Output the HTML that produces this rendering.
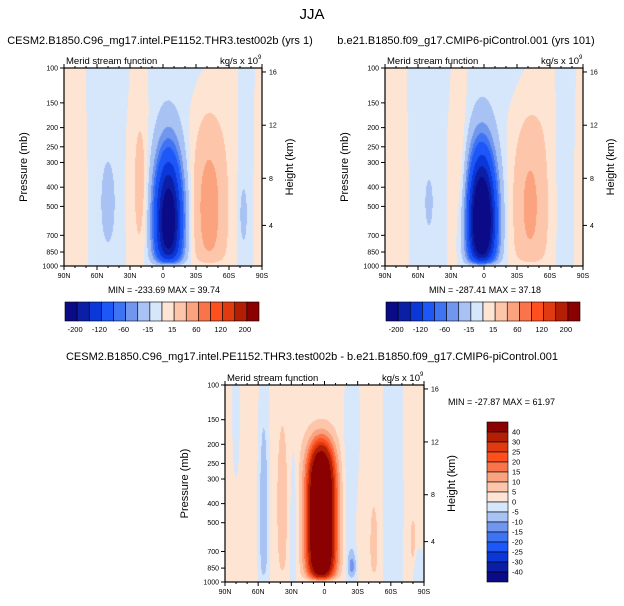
<!DOCTYPE html>
<html><head><meta charset="utf-8">
<style>
body{margin:0;background:#fff;width:624px;height:606px;overflow:hidden;position:relative;font-family:"Liberation Sans",Arial,sans-serif}
canvas{position:absolute}
svg{position:absolute;left:0;top:0}
</style></head>
<body>
<canvas id="c1" style="left:64px;top:68px" width="198" height="198"></canvas>
<canvas id="c2" style="left:385px;top:68px" width="198" height="198"></canvas>
<canvas id="c3" style="left:225px;top:385px" width="199" height="197"></canvas>
<svg id="ov" width="624" height="606" font-family="Liberation Sans, Arial, sans-serif">
<text x="312" y="19" font-size="15" text-anchor="middle">JJA</text>
<text x="160" y="44" font-size="11" text-anchor="middle">CESM2.B1850.C96_mg17.intel.PE1152.THR3.test002b (yrs 1)</text>
<text x="466" y="44" font-size="11" text-anchor="middle">b.e21.B1850.f09_g17.CMIP6-piControl.001 (yrs 101)</text>
<text x="312" y="360" font-size="11" text-anchor="middle">CESM2.B1850.C96_mg17.intel.PE1152.THR3.test002b - b.e21.B1850.f09_g17.CMIP6-piControl.001</text>
<text x="164" y="293" font-size="9" text-anchor="middle">MIN = -233.69  MAX =  39.74</text>
<text x="485" y="293" font-size="9" text-anchor="middle">MIN = -287.41  MAX =  37.18</text>
<text x="448" y="405" font-size="9">MIN = -27.87  MAX =  61.97</text>
</svg>
<script>
// data: contour field components [amplitude, latitude(-90=90N..90=90S), pressure(mb), sigmaLat, sigmaLogP, expLat, expLogP]
const blobs1=[[-250,5,590,9,0.245,2,2],[-5,10,100,45,0.2,2,2],[-10,-50,400,9,1.0,2,2],[8,-88,400,10,3,2,2],[-22,-50,480,4,0.12,2,2],[10,-22,300,7,0.8,2,2],[20,-20,400,4,0.2,2,2],[45,42,500,10,0.3,2,2],[10,42,600,15,0.4,2,2],[8,62,100,7,0.25,2,2],[-8,74,400,5,1.0,2,2],[-20,73,550,2.5,0.1,2,2],[6,90,400,5,3,2,2]];
const blobs2=[[-300,-2,590,9,0.245,2,2],[-5,10,100,45,0.2,2,2],[-10,-50,400,9,1.0,2,2],[8,-88,400,10,3,2,2],[-8,-50,480,4,0.12,2,2],[10,-22,300,7,0.8,2,2],[12,-20,420,4,0.2,2,2],[37,42,480,10,0.3,2,2],[10,42,600,15,0.4,2,2],[8,58,100,7,0.25,2,2],[-8,72,400,6,1.0,2,2],[6,90,400,5,3,2,2]];
const blobs3=[[80,-3,480,8,0.31,2,4],[3,0,400,500,5,2,2],[-6,-80,130,3,0.3,2,2],[-6,-55,500,4,1.2,2,2],[-7,-55,450,3,0.3,2,2],[7,-38,400,3,0.25,2,2],[-6,-28,600,3,0.4,2,2],[-5,23,600,4,0.35,2,2],[-12,25,850,3,0.06,2,2],[-6,62,400,8,1.2,2,2],[6,45,650,2.5,0.15,2,2],[8,80,620,1.5,0.07,2,2],[-8,86,930,4,0.1,2,2],[-6,25,150,6,0.3,2,2]];
const levels12=[-200,-160,-120,-80,-60,-40,-15,0,15,40,60,80,120,160,200];
const levels3=[-40,-30,-25,-20,-15,-10,-5,0,5,10,15,20,25,30,40];
const cbLabels12=["-200","-120","-60","-15","15","60","120","200"];
const cbLabels3=["40","30","25","20","15","10","5","0","-5","-10","-15","-20","-25","-30","-40"];
const presTicks=[100,150,200,250,300,400,500,700,850,1000];
const latLabels=["90N","60N","30N","0","30S","60S","90S"];
const hgtLabels=["16","12","8","4"];
const hgtFrac=[0.02,0.289,0.557,0.795];
const C=["#0b0a87","#0b1fa6","#0b37d9","#1d57f7","#3e73f4","#7196ee","#a8c2f3","#d7e7fb","#fee5d3","#fdc6aa","#fba27e","#f9744a","#fe4f1c","#e03b10","#b31e05","#8b0000"];

function field(bl,lat,z){let v=0;for(const b of bl){const dx=Math.abs((lat-b[1])/b[3]),dz=Math.abs((z-Math.log10(b[2]/100))/b[4]);v+=b[0]*Math.exp(-0.5*(Math.pow(dx,b[5])+Math.pow(dz,b[6])));}return v*(1-Math.exp(-(1-z)/0.03));}
function hex(h){return[parseInt(h.substr(1,2),16),parseInt(h.substr(3,2),16),parseInt(h.substr(5,2),16)];}
function draw(id,bl,lev){const cv=document.getElementById(id),ctx=cv.getContext('2d'),w=cv.width,h=cv.height,im=ctx.createImageData(w,h);
 for(let j=0;j<h;j++)for(let i=0;i<w;i++){const lat=-90+180*(i+0.5)/w,z=(j+0.5)/h,v=field(bl,lat,z);let k=0;while(k<lev.length&&v>=lev[k])k++;const c=hex(C[k]),o=(j*w+i)*4;im.data[o]=c[0];im.data[o+1]=c[1];im.data[o+2]=c[2];im.data[o+3]=255;}
 ctx.putImageData(im,0,0);}
draw('c1',blobs1,levels12);draw('c2',blobs2,levels12);draw('c3',blobs3,levels3);

const ov=document.getElementById('ov'),NS='http://www.w3.org/2000/svg';
function el(t,a,txt){const e=document.createElementNS(NS,t);for(const k in a)e.setAttribute(k,a[k]);if(txt!==undefined)e.textContent=txt;ov.appendChild(e);return e;}
function axes(p,x0,y0,w,h){
 const r=el('rect',{x:x0,y:y0,width:w,height:h,fill:'none',stroke:'#000','stroke-width':1.2});
 
 
 const t1=el('text',{x:x0+2,y:y0-4,'font-size':9.5},'Merid stream function');
 
 
 const t2=el('text',{x:x0+w-4,y:y0-4,'font-size':9.5,'text-anchor':'end'},'kg/s x 10');
 
 
 el('text',{x:x0+w-4,y:y0-9,'font-size':6},'9');
 presTicks.forEach(pv=>{const y=y0+h*Math.log10(pv/100);el('line',{x1:x0-4,x2:x0,y1:y,y2:y,stroke:'#000'});
  const t=el('text',{x:x0-6,y:y+2.5,'font-size':7,'text-anchor':'end'},String(pv));
  
  });
 hgtLabels.forEach((hl,i)=>{const y=y0+h*hgtFrac[i];el('line',{x1:x0+w,x2:x0+w+4,y1:y,y2:y,stroke:'#000'});
  const t=el('text',{x:x0+w+7,y:y+2.5,'font-size':7},hl);
  
  });
 for(let k=0;k<=18;k++){const x=x0+w*k/18,L=k%3==0?4:2;el('line',{x1:x,x2:x,y1:y0+h,y2:y0+h+L,stroke:'#000'});el('line',{x1:x,x2:x,y1:y0,y2:y0-L,stroke:'#000'});}
 latLabels.forEach((l,i)=>{const t=el('text',{x:x0+w*i/6,y:y0+h+12,'font-size':7,'text-anchor':'middle'},l);
  
  });
 const ya=el('text',{x:0,y:0,'font-size':11,'text-anchor':'middle',transform:`translate(${x0-37},${y0+h/2}) rotate(-90)`},'Pressure (mb)');
 
 
 const ha=el('text',{x:0,y:0,'font-size':11,'text-anchor':'middle',transform:`translate(${x0+w+31},${y0+h/2}) rotate(-90)`},'Height (km)');
 
 
}
axes('panel1',64,68,198,198);axes('panel2',385,68,198,198);axes('panel3',225,385,199,197);

function hbar(p,x0,y0,w,h){const bw=w/16;
 C.forEach((c,i)=>{const r=el('rect',{x:x0+i*bw,y:y0,width:bw,height:h,fill:c,stroke:'#000','stroke-width':0.6});
  
  });
 cbLabels12.forEach((l,i)=>{const t=el('text',{x:x0+bw*(1+2*i)-2,y:y0+h+11,'font-size':7.5,'text-anchor':'middle'},l);
  
  });}
hbar('panel1',65,302,194,19);hbar('panel2',386,302,194,19);
(function(){const x0=487,y0=422,w=21,bh=10;
 C.slice().reverse().forEach((c,i)=>{const r=el('rect',{x:x0,y:y0+i*bh,width:w,height:bh,fill:c,stroke:'#000','stroke-width':0.6});
  
  });
 cbLabels3.forEach((l,i)=>{const t=el('text',{x:x0+w+4,y:y0+bh*(i+1)+2.5,'font-size':7.5},l);
  
  });})();
</script>
</body></html>
